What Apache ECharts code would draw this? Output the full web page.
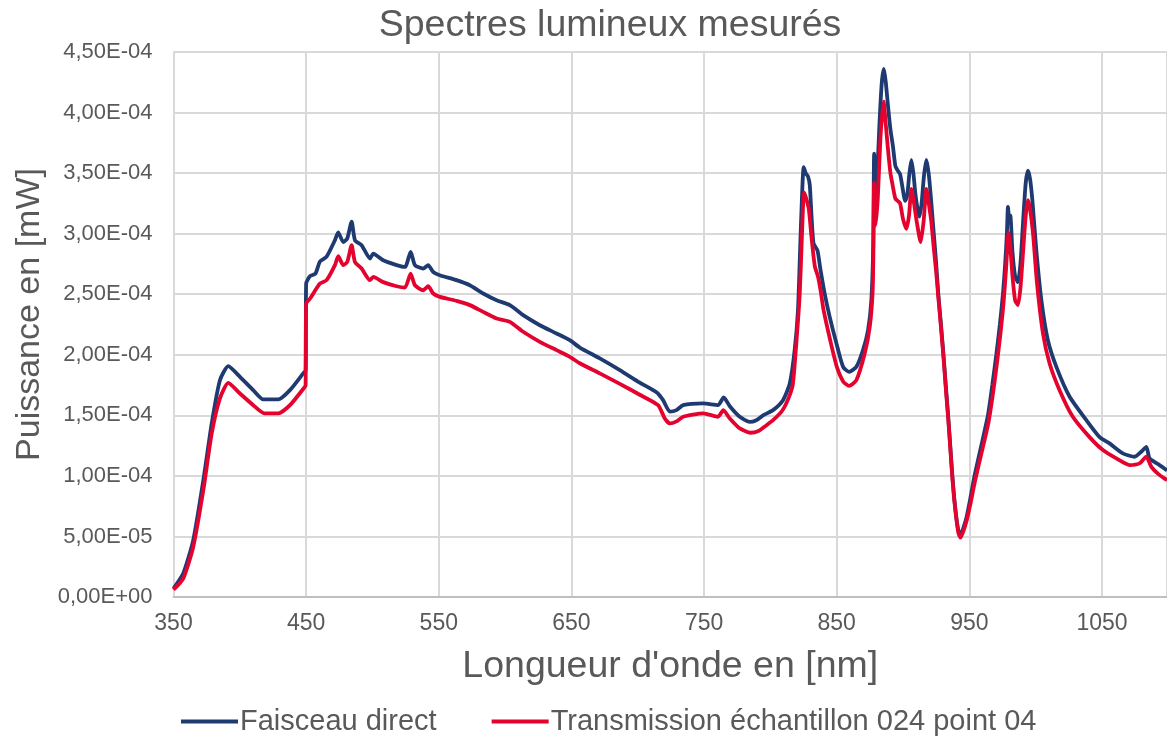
<!DOCTYPE html>
<html><head><meta charset="utf-8">
<script src="https://cdn.jsdelivr.net/npm/echarts@6/dist/echarts.min.js"></script>
<style>html,body{margin:0;padding:0;background:#fff}#c{width:1167px;height:740px}</style>
</head><body><div id="c"></div>
<script>
// Values in units of 1E-04 mW
const blueNm = [350,357.4,364.9,372.5,378.8,385,391.3,400.1,410.1,417.7,429,437.8,447.8,449.6,450,453,457,460.4,465.4,471.7,474.2,478,481,484.3,486.8,491.8,498.1,500.6,508.1,518.2,524.5,528.8,532,538.2,542,545.8,550.8,563.4,573.4,583.5,593.6,603.6,613.6,626.2,638.8,648.8,656.3,671.4,686.5,701.5,714.1,719.1,724.2,729.2,734.2,749.3,760.5,764.8,769.4,776.9,784.4,789.4,794.5,802,809.5,814.6,818.3,820.8,822.5,823.8,825.1,826.6,828.4,829.7,831,832.5,835.5,837.5,841,844.7,849.8,854.8,859.3,864.8,869.8,873.6,876.1,877.5,878.2,879.2,880.6,882.2,884,885.6,887,888.7,890.5,892.4,894.2,896,897.8,899.6,901.6,903.2,904.8,906.3,907.8,909.3,911,912.4,914,915.8,917.6,919.3,921,922.8,924.8,926.6,928.6,930.5,932.2,934,935.6,937.2,939.2,941.5,943.4,945.2,947.7,950.5,953.9,959,964,967.3,970.3,973,975.3,977,978.3,979.1,980.2,980.9,982.5,984.5,986.6,988.5,990.5,992.5,994.2,995.8,997.5,1000.5,1004.3,1009.2,1015.6,1025.6,1038.2,1048.2,1055.7,1065.7,1074.6,1079.6,1083.4,1085.9,1093.4,1099];
const blueVal = [0.07,0.196,0.47,0.965,1.433,1.79,1.906,1.818,1.708,1.631,1.631,1.708,1.846,1.87,2.588,2.65,2.67,2.77,2.81,2.946,3.01,2.93,2.96,3.10,2.946,2.905,2.795,2.836,2.78,2.74,2.725,2.85,2.74,2.712,2.74,2.684,2.657,2.616,2.574,2.506,2.45,2.41,2.327,2.244,2.176,2.12,2.06,1.97,1.873,1.77,1.69,1.625,1.53,1.543,1.584,1.598,1.584,1.648,1.575,1.488,1.446,1.46,1.50,1.543,1.625,1.763,2.04,2.37,2.9,3.3,3.55,3.5,3.47,3.4,3.15,2.92,2.86,2.72,2.5,2.313,2.093,1.90,1.859,1.90,2.038,2.203,2.45,2.9,3.66,3.3,3.5,3.9,4.25,4.36,4.25,4.05,3.86,3.72,3.56,3.52,3.49,3.38,3.27,3.32,3.5,3.61,3.5,3.33,3.2,3.14,3.25,3.48,3.61,3.5,3.3,3.05,2.78,2.5,2.25,2.0,1.75,1.5,1.25,1.0,0.75,0.56,0.51,0.56,0.65,0.8,1.0,1.25,1.5,1.75,2.0,2.25,2.5,2.75,3.0,3.22,3.1,3.15,2.85,2.65,2.60,2.75,3.1,3.42,3.52,3.45,3.276,2.86,2.45,2.12,1.90,1.653,1.46,1.32,1.268,1.186,1.158,1.199,1.24,1.144,1.089,1.045];
const redNm = [350,357.4,364.9,372.5,378.8,385,391.3,400.1,410.1,418.5,429,437.8,449,449.6,450,453,460.4,465.4,471.7,474.2,478,481,484.3,486.8,491.8,498.1,500.6,508.1,518.2,524.5,528.8,532,538.2,542,545.8,550.8,563.4,573.4,583.5,593.6,603.6,613.6,626.2,638.8,648.8,656.3,671.4,686.5,701.5,715.3,720.4,724.2,729.2,734.2,749.3,760.5,764.5,769.4,776.9,785,791,796,802,809,814,817,820.1,822.1,823.5,824.5,825.3,827,829,831,833.5,836,838,840.1,845.1,850.1,855.1,859.3,864.8,871.1,874.9,877,877.6,878.2,879.3,881,883,885.3,887,888.7,890.5,892.4,894.2,896,897.8,900,902.5,904.5,906.3,908.3,910.3,913.3,915.5,917.6,919.4,921.3,923,925,926.8,928.8,930.7,932.4,934.2,935.8,937.4,939.4,941.7,943.4,945.4,947.9,950.8,954.3,959.4,964.4,967.8,970.8,973.5,975.8,977.6,979.6,980.8,982.5,984.5,986.6,988.5,990.5,992.5,994.2,995.8,998,1001,1005.5,1010.5,1018,1028,1040.6,1050.7,1060.8,1070.8,1078.3,1083.4,1087.2,1093,1099];
const redVal = [0.06,0.154,0.415,0.883,1.35,1.64,1.768,1.68,1.584,1.516,1.516,1.584,1.735,1.75,2.423,2.465,2.588,2.616,2.74,2.814,2.74,2.767,2.905,2.767,2.712,2.616,2.643,2.60,2.566,2.555,2.67,2.574,2.533,2.566,2.506,2.478,2.445,2.41,2.354,2.30,2.272,2.19,2.107,2.038,1.983,1.93,1.846,1.76,1.67,1.584,1.474,1.433,1.45,1.488,1.516,1.488,1.543,1.474,1.392,1.356,1.37,1.41,1.46,1.54,1.65,1.763,2.176,2.5,2.9,3.2,3.34,3.29,3.2,2.97,2.73,2.64,2.52,2.368,2.12,1.90,1.776,1.743,1.79,2.01,2.23,2.5,2.8,3.42,3.07,3.3,3.8,4.09,3.9,3.69,3.5,3.385,3.29,3.27,3.25,3.12,3.04,3.15,3.37,3.25,3.1,2.93,3.1,3.37,3.25,3.1,2.9,2.68,2.45,2.2,1.95,1.7,1.45,1.2,0.95,0.72,0.53,0.49,0.54,0.63,0.77,0.96,1.2,1.44,1.68,1.93,2.18,2.43,2.7,3.01,2.9,2.65,2.45,2.41,2.55,2.85,3.15,3.276,3.2,3.0,2.59,2.176,1.928,1.708,1.488,1.32,1.213,1.144,1.089,1.103,1.158,1.075,1.01,0.965];
const seriesNames = ['Faisceau direct', 'Transmission échantillon 024 point 04'];
const titleText = 'Spectres lumineux mesurés';
const xName = "Longueur d'onde en [nm]";
const yName = 'Puissance en [mW]';

function pairs(xs, ys){ return xs.map((x,i)=>[x, ys[i]]); }
function fmtY(v){
  if (Math.abs(v) < 1e-12) return '0,00E+00';
  const x = v * 1e-4;
  const e = Math.floor(Math.log10(x) + 1e-9);
  const m = x / Math.pow(10, e);
  const sign = e < 0 ? '-' : '+';
  return m.toFixed(2).replace('.', ',') + 'E' + sign + String(Math.abs(e)).padStart(2, '0');
}
const txt = '#595959';
const ff = 'Liberation Sans, Arial';
const chart = echarts.init(document.getElementById('c'));
chart.setOption({
  animation: false,
  backgroundColor: '#fff',
  title: { text: titleText, left: 605, textAlign: 'center', top: 2,
    textStyle: { fontFamily: ff, fontSize: 37.5, fontWeight: 'normal', color: txt } },
  legend: { left: 176, top: 702, itemWidth: 57, itemHeight: 4, itemGap: 55, icon: 'rect',
    textStyle: { fontFamily: ff, fontSize: 29, color: txt, padding: [0,0,0,-3] },
    data: seriesNames },
  grid: { left: 173.5, right: 0, top: 52, bottom: 143, containLabel: false },
  xAxis: { type: 'value', min: 350, max: 1099, interval: 100,
    name: xName, nameLocation: 'middle', nameGap: 51,
    nameTextStyle: { fontFamily: ff, fontSize: 37.5, color: txt },
    axisLine: { show: true, lineStyle: { color: '#bfbfbf', width: 2 } },
    axisTick: { show: false },
    axisLabel: { fontFamily: ff, fontSize: 23, color: txt, margin: 15, showMaxLabel: false,
      formatter: v => String(v) },
    splitLine: { show: true, lineStyle: { color: '#d9d9d9', width: 2 } } },
  yAxis: { type: 'value', min: 0, max: 4.5, interval: 0.5,
    name: yName, nameLocation: 'middle', nameGap: 127, nameRotate: 90,
    nameTextStyle: { fontFamily: ff, fontSize: 34, color: txt, padding: [0, 0, 0, 20] },
    axisLine: { show: false }, axisTick: { show: false },
    axisLabel: { fontFamily: ff, fontSize: 22, color: txt, margin: 21, formatter: fmtY },
    splitLine: { show: true, lineStyle: { color: '#d9d9d9', width: 2 } } },
  series: [
    { name: seriesNames[0], type: 'line', data: pairs(blueNm, blueVal), symbol: 'none', smooth: 0.2,
      lineStyle: { color: '#1f3a70', width: 3.8 }, itemStyle: { color: '#1f3a70' } },
    { name: seriesNames[1], type: 'line', data: pairs(redNm, redVal), symbol: 'none', smooth: 0.2,
      lineStyle: { color: '#e4032e', width: 3.8 }, itemStyle: { color: '#e4032e' } }
  ]
});
</script></body></html>
